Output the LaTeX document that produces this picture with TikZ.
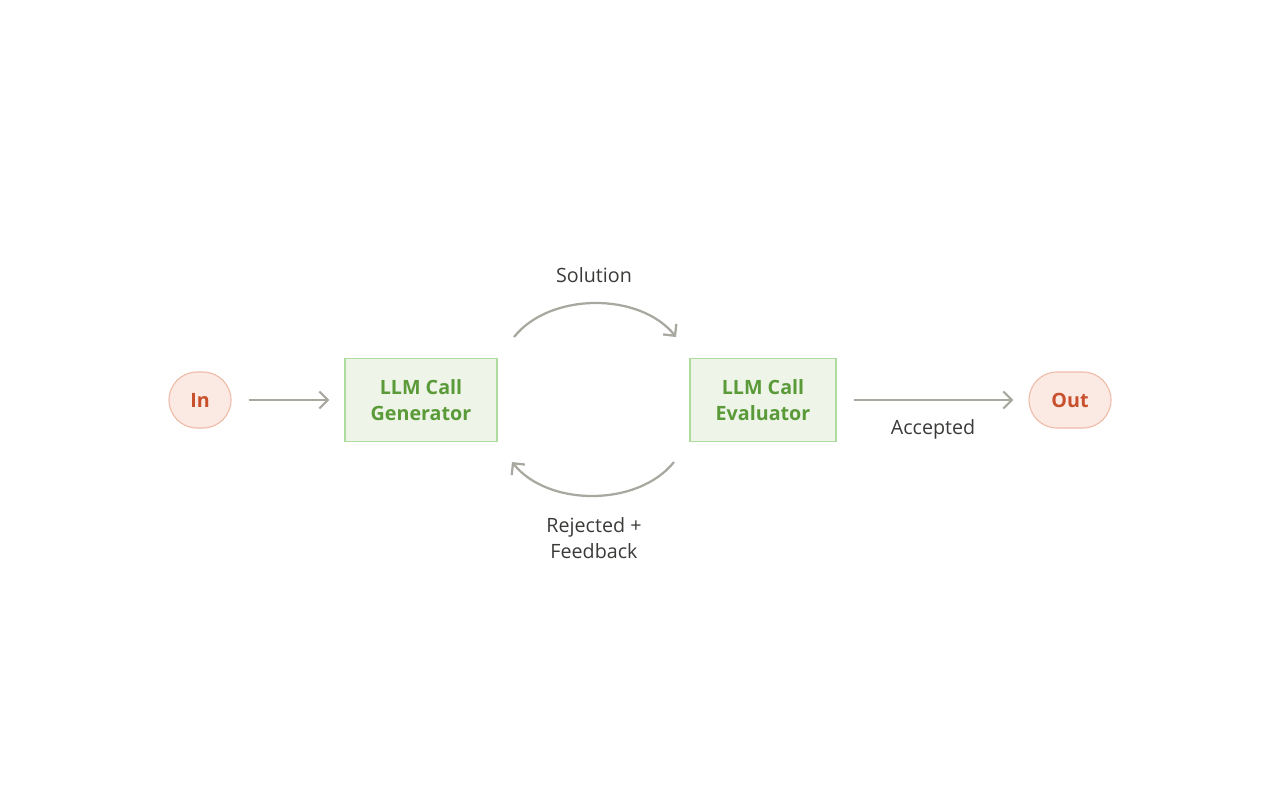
\documentclass[tikz,border=0pt]{standalone}
\usepackage{fontspec}
\setmainfont{Open Sans}
\usetikzlibrary{arrows.meta}
\definecolor{arr}{HTML}{A8A8A0}
\definecolor{pinkf}{HTML}{FBEAE4}
\definecolor{pinkd}{HTML}{F0BBA8}
\definecolor{pinkt}{HTML}{C8502D}
\definecolor{greenf}{HTML}{EEF5E8}
\definecolor{greend}{HTML}{AEDB9E}
\definecolor{greent}{HTML}{5A9A38}
\definecolor{txt}{HTML}{3A3A38}
\begin{document}
\begin{tikzpicture}[x=0.025cm,y=-0.025cm,
  term/.style={draw=pinkd,fill=pinkf,text=pinkt,rounded corners=0.7cm,line width=0.8pt,minimum height=56*0.025cm,font=\fontsize{14}{16}\selectfont\bfseries,inner sep=0pt},
  llm/.style={draw=greend,fill=greenf,text=greent,line width=0.8pt,minimum height=83*0.025cm,font=\fontsize{14}{19}\selectfont\bfseries,align=center,inner sep=0pt},
  conn/.style={draw=arr,line width=1.6pt,-{Straight Barb[length=6pt,width=12pt]}},
  lab/.style={text=txt,font=\fontsize{14}{19}\selectfont,align=center}]
\useasboundingbox (0,0) rectangle (1280,800);
\node[term,minimum width=62*0.025cm] (in) at (200,400) {In};
\node[term,minimum width=82*0.025cm] (out) at (1070,400) {Out};
\node[llm,minimum width=152*0.025cm] (gen) at (421,400) {LLM Call\\Generator};
\node[llm,minimum width=146*0.025cm] (eval) at (763,400) {LLM Call\\Evaluator};
\draw[conn] ([xshift=17*0.025cm]in.east) -- ([xshift=-15*0.025cm]gen.west);
\draw[conn] ([xshift=17*0.025cm]eval.east) -- ([xshift=-15*0.025cm]out.west);
\coordinate (s1) at (514,337); \coordinate (s2) at (676,337);
\coordinate (r1) at (674,462); \coordinate (r2) at (512,462);
\draw[conn] (s1) .. controls (550,292) and (640,292) .. (s2);
\draw[conn] (r1) .. controls (638,507) and (548,507) .. (r2);
\node[lab] (sol) at (594,275) {Solution};
\node[lab] (acc) at (933,429) {Accepted};
\node[lab] (rej) at (594,538) {Rejected +\\Feedback};
\end{tikzpicture}
\end{document}
